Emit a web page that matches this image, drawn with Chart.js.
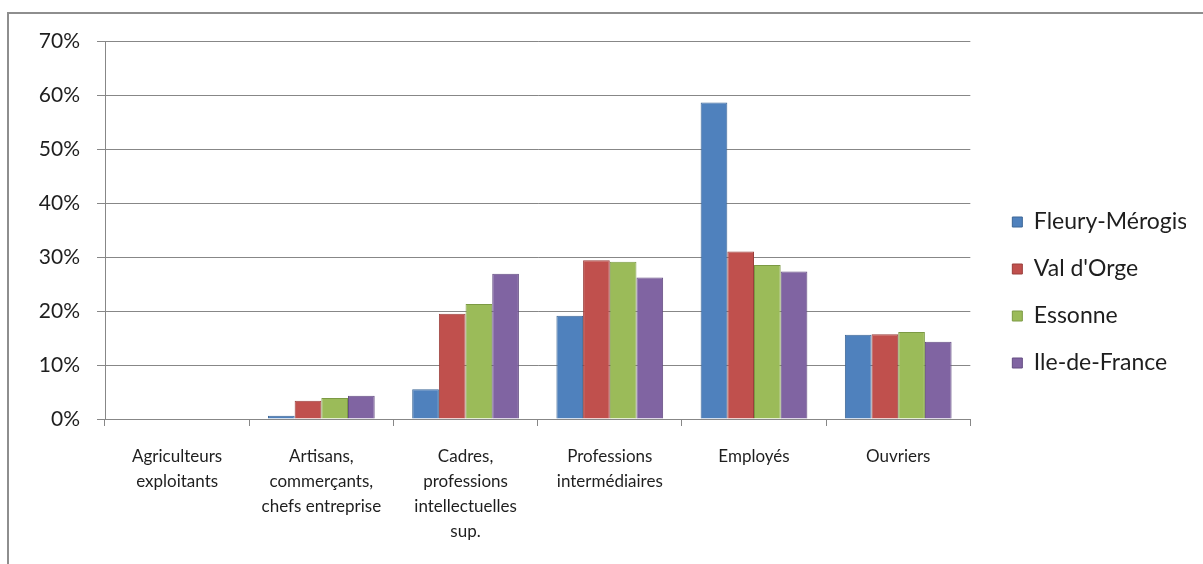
<!DOCTYPE html>
<html>
<head>
<meta charset="utf-8">
<script src="https://cdn.jsdelivr.net/npm/chart.js@4.4.1/dist/chart.umd.min.js"></script>
<style>
  html, body { margin: 0; padding: 0; background: #fff; }
  #wrap { position: relative; width: 1203px; height: 564px; }
  #frame { position: absolute; left: 7px; top: 12px; right: 0; bottom: 0;
           border-left: 2px solid #8e8e8e; border-top: 2px solid #8e8e8e; }
  canvas { position: absolute; left: 0; top: 0; }
</style>
</head>
<body>
<div id="wrap">
  <div id="frame"></div>
  <canvas id="chart" width="1203" height="564"></canvas>
</div>
<script>
// catégories socioprofessionnelles (part des actifs, en %)
const categories = [
    ['Agriculteurs', 'exploitants'],
    ['Artisans,', 'commerçants,', 'chefs entreprise'],
    ['Cadres,', 'professions', 'intellectuelles', 'sup.'],
    ['Professions', 'intermédiaires'],
    'Employés',
    'Ouvriers'
];

const fleuryMerogis = [0, 0.6, 5.5, 19.1, 58.6, 15.6];
const valDOrge      = [0, 3.4, 19.5, 29.4, 31.0, 15.7];
const essonne       = [0, 3.9, 21.3, 29.1, 28.5, 16.1];
const ileDeFrance   = [0, 4.3, 26.9, 26.2, 27.3, 14.3];

const yTicks = [0, 10, 20, 30, 40, 50, 60, 70];

const gridColor = '#878787';
const textColor = '#1e1e1e';

function serie(label, data, fill, border) {
    return {
        label: label,
        data: data,
        backgroundColor: fill,
        borderColor: border,
        borderWidth: 1,
        borderSkipped: 'bottom',
        categoryPercentage: 0.74,
        barPercentage: 1.0
    };
}

const canvas = document.getElementById('chart');

new Chart(canvas, {
    type: 'bar',
    data: {
        labels: categories,
        datasets: [
            serie('Fleury-Mérogis', fleuryMerogis, '#4f81bd', '#3d6797'),
            serie("Val d'Orge", valDOrge, '#c0504d', '#9a3e3b'),
            serie('Essonne', essonne, '#9bbb59', '#7c9a44'),
            serie('Ile-de-France', ileDeFrance, '#8064a2', '#644d82')
        ]
    },
    options: {
        responsive: false,
        animation: false,
        layout: {
            padding: { left: 0, right: 17, top: 41, bottom: 20 }
        },
        plugins: {
            tooltip: { enabled: false },
            legend: {
                position: 'right',
                labels: {
                    boxWidth: 10,
                    boxHeight: 10,
                    padding: 24,
                    color: textColor,
                    font: { family: 'Lato', size: 23 }
                }
            }
        },
        scales: {
            x: {
                grid: {
                    display: true,
                    offset: true,
                    drawOnChartArea: false,
                    drawTicks: true,
                    tickLength: 7,
                    color: gridColor
                },
                border: { display: true, color: gridColor },
                ticks: {
                    color: textColor,
                    padding: 18,
                    maxRotation: 0,
                    autoSkip: false,
                    font: { family: 'Lato', size: 17, lineHeight: 1.47 }
                },
                afterFit: function (s) { s.height = 125; }
            },
            y: {
                min: 0,
                max: 70,
                afterBuildTicks: function (s) {
                    s.ticks = yTicks.map(v => ({ value: v }));
                },
                grid: {
                    color: gridColor,
                    tickLength: 8
                },
                border: { display: true, color: gridColor },
                ticks: {
                    color: textColor,
                    padding: 17,
                    font: { family: 'Lato', size: 21 },
                    callback: v => v + '%'
                },
                afterFit: function (s) { s.width = 105; }
            },
            // espace entre la zone de tracé et la légende
            y2: {
                position: 'right',
                display: true,
                grid: { display: false },
                border: { display: false },
                ticks: { display: false },
                afterFit: function (s) { s.width = 18; }
            }
        }
    }
});
</script>
</body>
</html>
